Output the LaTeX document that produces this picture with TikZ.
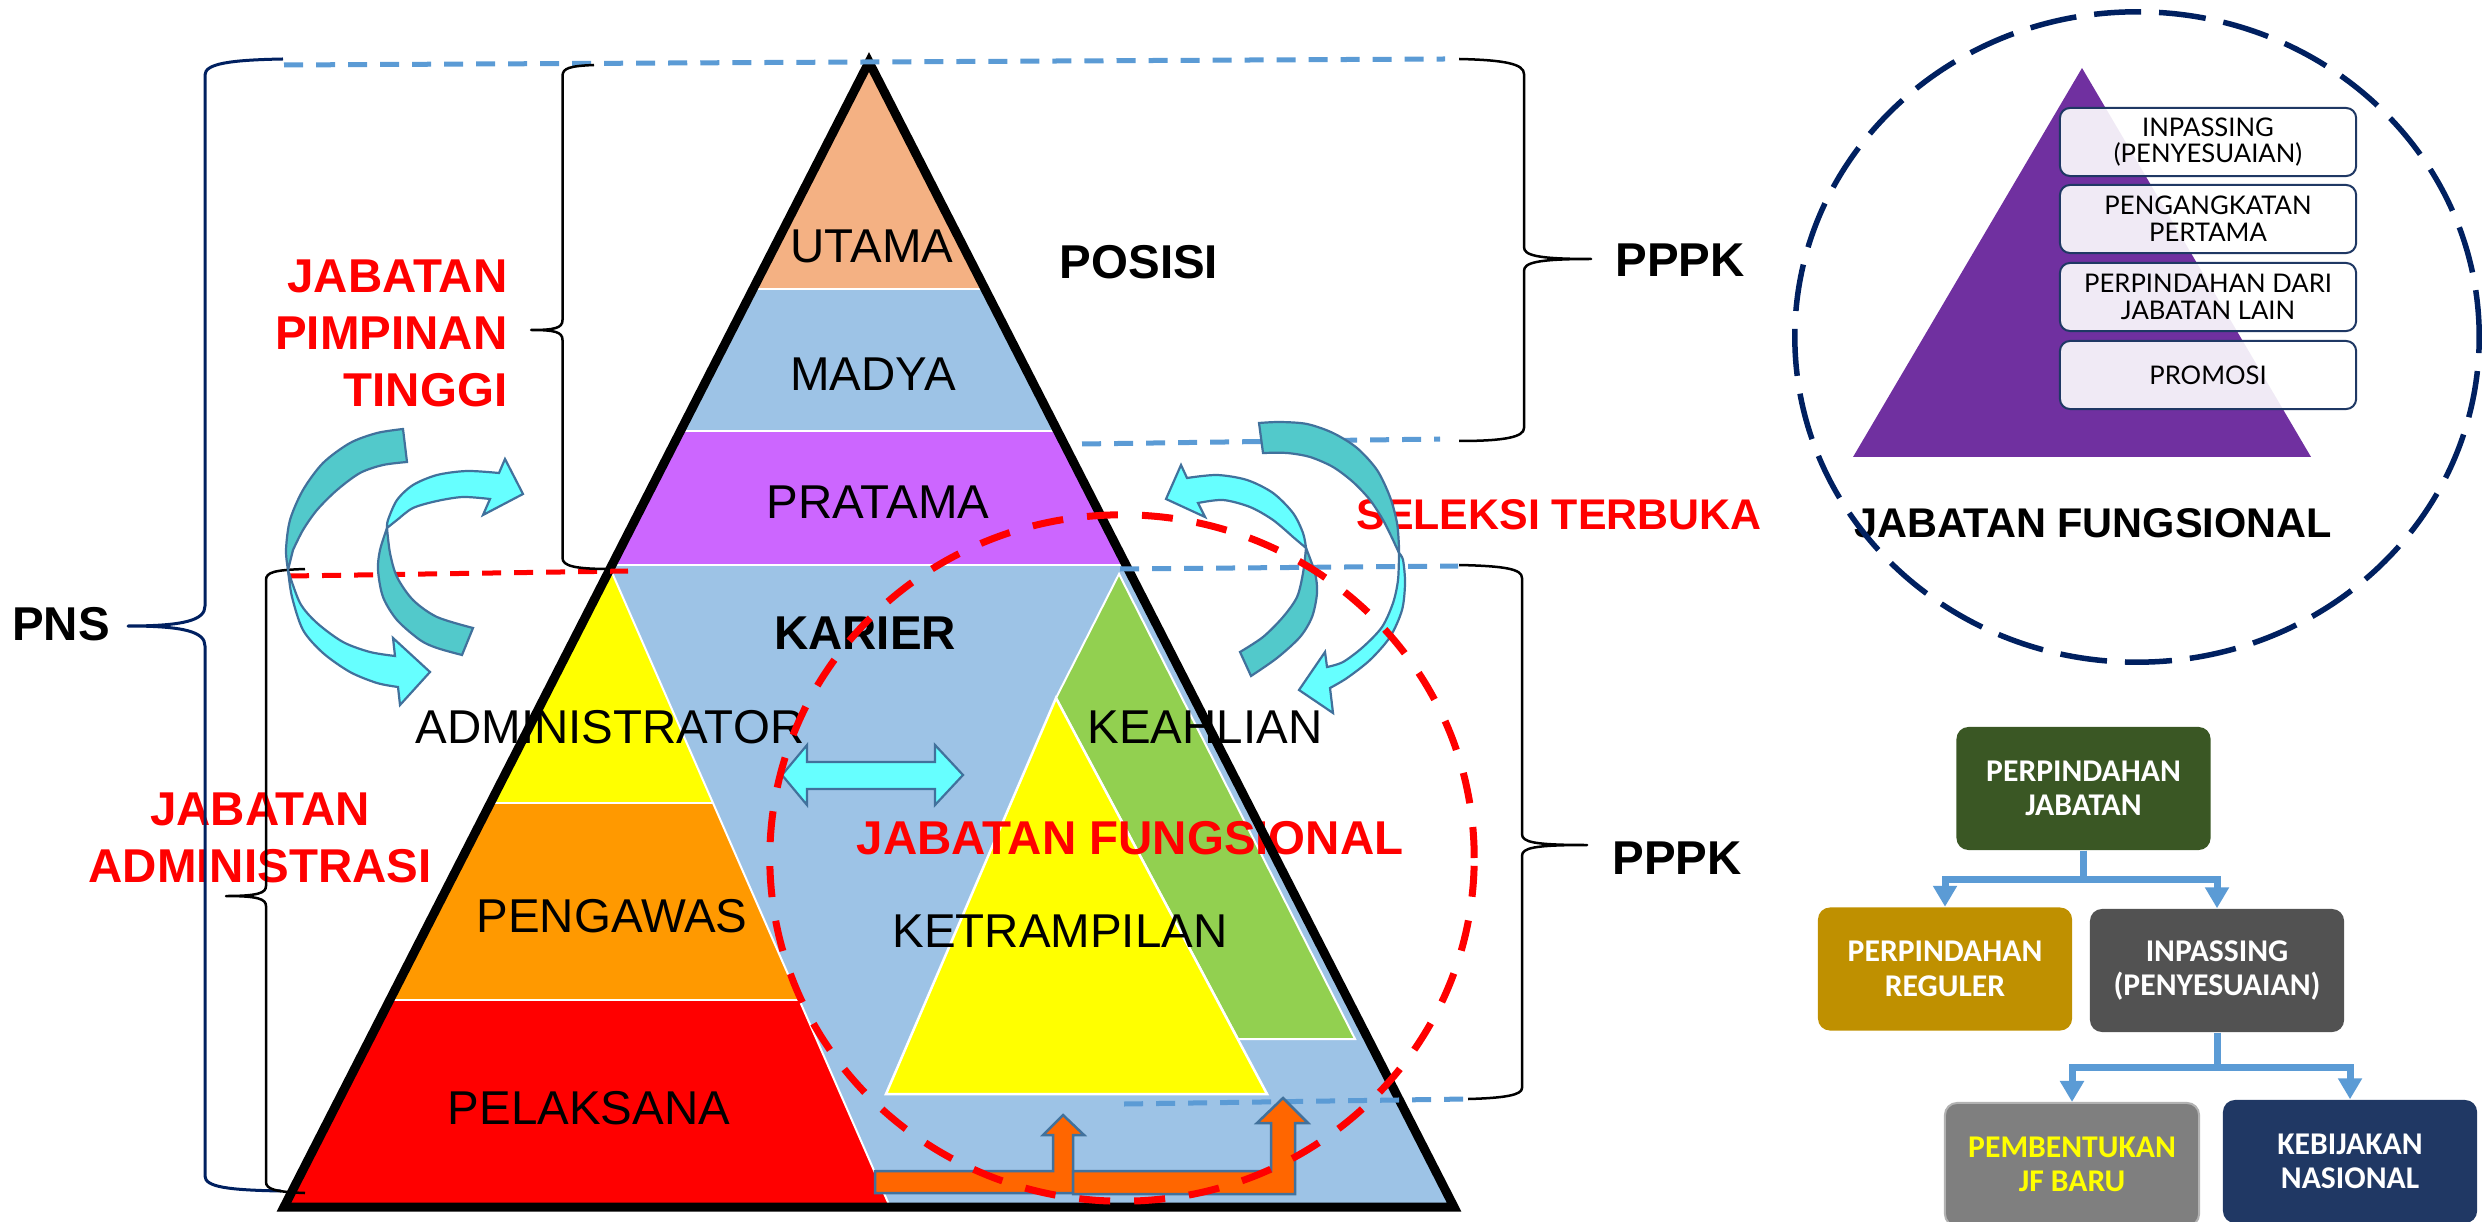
\documentclass[tikz,border=0pt]{standalone}
\usepackage{fontspec}
\setmainfont{Liberation Sans}
\newfontfamily\flowfont{Carlito}
\newfontfamily\boxfont{Lato}
\usetikzlibrary{arrows.meta}
\definecolor{salmon}{HTML}{F4B183}
\definecolor{blueband}{HTML}{9DC3E6}
\definecolor{purpleband}{HTML}{CC66FF}
\definecolor{yellowband}{HTML}{FFFF00}
\definecolor{orangeband}{HTML}{FF9900}
\definecolor{redband}{HTML}{FF0000}
\definecolor{greenband}{HTML}{92D050}
\definecolor{dashblue}{HTML}{5B9BD5}
\definecolor{navy}{HTML}{002060}
\definecolor{tealarr}{HTML}{52C9CB}
\definecolor{cyanarr}{HTML}{66FFFF}
\definecolor{arrline}{HTML}{41719C}
\definecolor{orangearr}{HTML}{FF6600}
\definecolor{jfpurple}{HTML}{7030A0}
\definecolor{boxline}{HTML}{1F3864}
\definecolor{pjgreen}{HTML}{3A5724}
\definecolor{regcol}{HTML}{BF9000}
\definecolor{inpcol}{HTML}{525252}
\definecolor{jfcol}{HTML}{7F7F7F}
\definecolor{kebcol}{HTML}{203864}
\begin{document}
\begin{tikzpicture}[x=0.01cm, y=-0.01cm, line join=miter,
  lbl/.style={inner sep=0pt, font=\fontsize{13.5}{16.2}\selectfont},
  lblb/.style={inner sep=0pt, font=\fontsize{13.5}{16.2}\selectfont\bfseries},
  redlbl/.style={lblb, text=redband},
  guide/.style={draw=dashblue, line width=0.05cm, dash pattern=on 0.19cm off 0.13cm},
  bracebk/.style={draw=black, line width=0.025cm, line join=round},
  bracenv/.style={draw=navy, line width=0.03cm, line join=round},
  tealpart/.style={fill=tealarr, draw=arrline, line width=0.022cm},
  cyanpart/.style={fill=cyanarr, draw=arrline, line width=0.022cm},
  orangepart/.style={fill=orangearr, draw=arrline, line width=0.025cm},
  pbox/.style={draw=boxline, line width=0.02cm, fill=white, fill opacity=0.9,
    text opacity=1, rounded corners=0.1cm, minimum width=2.96cm,
    minimum height=0.68cm, inner sep=0pt, align=center, text=black,
    font=\boxfont\fontsize{7.3}{7.6}\selectfont},
  fnode/.style={rounded corners=0.12cm, minimum width=2.54cm,
    minimum height=1.23cm, inner sep=0pt, align=center, text=white,
    font=\flowfont\bfseries\fontsize{9}{9.8}\selectfont},
  flow/.style={draw=dashblue, line width=0.07cm,
    -{Triangle[width=0.23cm,length=0.21cm]}}]

\useasboundingbox (0,0) rectangle (2483,1222);
\clip (0,0) rectangle (2483,1222);

% ---------------- main pyramid ----------------
\coordinate (apex) at (869,62);
\coordinate (bl) at (284,1207);
\coordinate (br) at (1454,1207);
\begin{scope}
  \clip (apex) -- (bl) -- (br) -- cycle;
  \fill[salmon] (200,0) rectangle (1500,289);
  \fill[blueband] (200,289) rectangle (1500,431);
  \fill[purpleband] (200,431) rectangle (1500,565);
  \fill[blueband] (200,565) rectangle (1500,1230);
  % structural ladder (left)
  \begin{scope}
    \clip (610,568) -- (284,1207) -- (890,1207) -- cycle;
    \fill[yellowband] (200,560) rectangle (1000,803);
    \fill[orangeband] (200,803) rectangle (1000,1000);
    \fill[redband] (200,1000) rectangle (1000,1230);
    \draw[white, line width=0.02cm] (200,803) -- (1000,803) (200,1000) -- (1000,1000);
  \end{scope}
  \draw[white, line width=0.02cm] (610,568) -- (890,1207);
  % functional ladder (right)
  \filldraw[fill=greenband, draw=white, line width=0.02cm]
    (1119,574) -- (1056,698) -- (1238,1039) -- (1355,1039) -- cycle;
  \filldraw[fill=yellowband, draw=white, line width=0.025cm]
    (1056,698) -- (886,1094) -- (1267,1094) -- cycle;
  \draw[white, line width=0.02cm]
    (200,289) -- (1500,289) (200,431) -- (1500,431) (200,565) -- (1500,565);
\end{scope}

% level labels
\node[lbl] (utama) at (872,246) {UTAMA};
\node[lbl] (madya) at (873,374) {MADYA};
\node[lbl] (pratama) at (878,502) {PRATAMA};
\node[lblb] (karier) at (865,633) {KARIER};
\node[lbl] (admin) at (610,727) {ADMINISTRATOR};
\node[lbl] (keahlian) at (1205,727) {KEAHLIAN};
\node[redlbl] (jfmain) at (1130,838) {JABATAN FUNGSIONAL};
\node[lbl] (ketrampilan) at (1060,931) {KETRAMPILAN};
\node[lbl] (pengawas) at (612,916) {PENGAWAS};
\node[lbl] (pelaksana) at (589,1108) {PELAKSANA};

% group labels
\node[lblb] (posisi) at (1139,262) {POSISI};
\node[lblb] (pppka) at (1680,260) {PPPK};
\node[lblb] (pppkb) at (1677,858) {PPPK};
\node[lblb] (pns) at (61,624) {PNS};
\node[redlbl, anchor=east, align=right] (jpt) at (508,333) {JABATAN\\PIMPINAN\\TINGGI};
\node[redlbl, align=center] (ja) at (260,838) {JABATAN\\ADMINISTRASI};
\node[inner sep=0pt, text=redband, font=\fontsize{12.2}{14}\selectfont\bfseries]
  (seleksi) at (1559,515) {SELEKSI TERBUKA};

% pyramid outline
\draw[line width=0.09cm] (apex) -- (bl) -- (br) -- cycle;

% level guide lines
\draw[guide] (284,65) -- (1445,59);
\draw[guide] (1082,444) -- (1440,439);
\draw[guide] (1120,569) -- (1458,566);
\draw[guide] (1124,1104) -- (1466,1099);
\draw[draw=redband, line width=0.05cm, dash pattern=on 0.19cm off 0.13cm] (290,576) -- (628,571);

% braces
\draw[bracenv] (283,59) .. controls (228,60) and (205,64) .. (205,75)
  -- (205,606) .. controls (205,620) and (185,626) .. (128,626)
  .. controls (185,626) and (205,632) .. (205,646)
  -- (205,1176) .. controls (205,1187) and (228,1190) .. (281,1191);
\draw[bracebk] (594,65) .. controls (570,66) and (562.5,68) .. (562.5,76)
  -- (562.5,320) .. controls (562.5,328) and (555,330) .. (531,330)
  .. controls (555,330) and (562.5,332) .. (562.5,340)
  -- (562.5,558) .. controls (562.5,566) and (575,569) .. (610,569);
\draw[bracebk] (305,569) .. controls (275,570) and (266,572) .. (266,580)
  -- (266,886) .. controls (266,893) and (258,896) .. (226,896)
  .. controls (258,896) and (266,899) .. (266,906)
  -- (266,1182) .. controls (266,1189) and (275,1192) .. (305,1193);
\draw[bracebk] (1459,59) .. controls (1505,60) and (1524,64) .. (1524,74)
  -- (1524,247) .. controls (1524,255) and (1535,259) .. (1591,259)
  .. controls (1535,259) and (1524,263) .. (1524,271)
  -- (1524,428) .. controls (1524,437) and (1505,441) .. (1459,441);
\draw[bracebk] (1459,565) .. controls (1505,566) and (1522,569) .. (1522,578)
  -- (1522,834) .. controls (1522,842) and (1533,845) .. (1587,845)
  .. controls (1533,845) and (1522,848) .. (1522,856)
  -- (1522,1088) .. controls (1522,1095) and (1505,1098) .. (1468,1099);

% curved arrows, left pair
\filldraw[tealpart] plot[smooth] coordinates {(403,429) (377,433) (350,443) (323,463) (303,490) (290,520) (286,550) (288,570)}
  -- plot[smooth] coordinates {(293,550) (303,530) (317,510) (337,490) (360,473) (383,465) (407,462)} -- cycle;
\filldraw[cyanpart] plot[smooth] coordinates {(288,570) (292,597) (303,630) (323,653) (350,672) (377,683) (398,687)}
  -- (400,705) -- (430,672) -- (393,638)
  -- plot[smooth] coordinates {(395,656) (370,652) (343,642) (317,623) (300,603) (288,570)} -- cycle;
\filldraw[tealpart] plot[smooth] coordinates {(387,528) (380,550) (378,570) (383,597) (397,620) (420,640) (437,648) (462,655)}
  -- plot[smooth] coordinates {(473,628) (437,617) (413,600) (397,577) (390,553) (387,528)} -- cycle;
\filldraw[cyanpart] plot[smooth] coordinates {(387,528) (388,520) (397,500) (413,485) (437,475) (467,471) (499,473)}
  -- (505,459) -- (523,494) -- (483,515)
  -- plot[smooth] coordinates {(490,499) (463,497) (437,501) (413,508) (397,520) (387,528)} -- cycle;

% curved arrows, right pair
\filldraw[tealpart] plot[smooth] coordinates {(1259,423) (1280,422) (1307,424) (1333,433) (1357,448) (1377,470) (1390,497) (1397,523) (1399,547) (1399,553)}
  -- plot[smooth] coordinates {(1393,540) (1383,520) (1370,500) (1353,482) (1333,467) (1310,457) (1287,453) (1263,453)} -- cycle;
\filldraw[cyanpart] plot[smooth] coordinates {(1399,553) (1403,560) (1405,583) (1402,610) (1390,637) (1370,660) (1347,678) (1330,688)}
  -- (1333,713) -- (1299,690) -- (1325,652)
  -- plot[smooth] coordinates {(1327,667) (1343,662) (1363,647) (1382,627) (1393,603) (1398,580) (1399,553)} -- cycle;
\filldraw[tealpart] plot[smooth] coordinates {(1306,548) (1315,573) (1317,593) (1312,617) (1300,637) (1277,658) (1251,676)}
  -- plot[smooth] coordinates {(1240,652) (1263,637) (1283,617) (1297,597) (1303,573) (1306,548)} -- cycle;
\filldraw[cyanpart] (1166,499) -- (1181,465)
  -- plot[smooth] coordinates {(1187,478) (1217,475) (1247,480) (1273,493) (1293,513) (1303,533) (1306,548)}
  -- plot[smooth] coordinates {(1293,537) (1273,520) (1250,507) (1223,500) (1198,503)}
  -- (1205,517) -- cycle;

% double arrow between ladders
\filldraw[cyanpart] (782,775) -- (807,745) -- (807,762) -- (935,762) -- (935,745)
  -- (963,775) -- (935,805) -- (935,789) -- (807,789) -- (807,805) -- cycle;

% bent-up arrows at the base
\filldraw[orangepart] (875,1171) -- (1053,1171) -- (1053,1135) -- (1043,1135) -- (1063,1115)
  -- (1084,1135) -- (1073,1135) -- (1073,1193) -- (875,1193) -- cycle;
\filldraw[orangepart] (1073,1171) -- (1271,1171) -- (1271,1123) -- (1257,1123) -- (1283,1098)
  -- (1308,1123) -- (1295,1123) -- (1295,1194) -- (1073,1194) -- cycle;

% functional group outline
\draw[draw=redband, line width=0.07cm, dash pattern=on 0.31cm off 0.24cm]
  (1122,858) ellipse [x radius=3.52cm, y radius=3.43cm];

% ---------------- functional position pyramid ----------------
\fill[jfpurple] (2082,68) -- (1853,457) -- (2311,457) -- cycle;
\node[pbox] (b1) at (2208,142) {INPASSING\\(PENYESUAIAN)};
\node[pbox] (b2) at (2208,219) {PENGANGKATAN\\PERTAMA};
\node[pbox] (b3) at (2208,297) {PERPINDAHAN DARI\\JABATAN LAIN};
\node[pbox] (b4) at (2208,375) {PROMOSI};
\node[inner sep=0pt, font=\fontsize{11.8}{14}\selectfont\bfseries] (jfright) at (2093,523) {JABATAN FUNGSIONAL};
\draw[draw=navy, line width=0.055cm, dash pattern=on 0.47cm off 0.18cm]
  (2137,337) ellipse [x radius=3.42cm, y radius=3.25cm];

% ---------------- transfer flow ----------------
\node[fnode, fill=pjgreen] (pj) at (2083.5,788.5) {PERPINDAHAN\\JABATAN};
\node[fnode, fill=regcol] (reg) at (1945,969) {PERPINDAHAN\\REGULER};
\node[fnode, fill=inpcol] (inp) at (2217,970.5) {INPASSING\\(PENYESUAIAN)};
\node[fnode, fill=jfcol, text=yellowband, draw=gray!60, line width=0.02cm] (jfb) at (2072,1164.5) {PEMBENTUKAN\\JF BARU};
\node[fnode, fill=kebcol] (keb) at (2350,1161.5) {KEBIJAKAN\\NASIONAL};
\draw[flow] (pj.south) -- ++(0,29) -| (reg.north);
\draw[flow] (pj.south) -- ++(0,29) -| (inp.north);
\draw[flow] (inp.south) -- ++(0,35) -| (jfb.north);
\draw[flow] (inp.south) -- ++(0,35) -| (keb.north);
\end{tikzpicture}
\end{document}
